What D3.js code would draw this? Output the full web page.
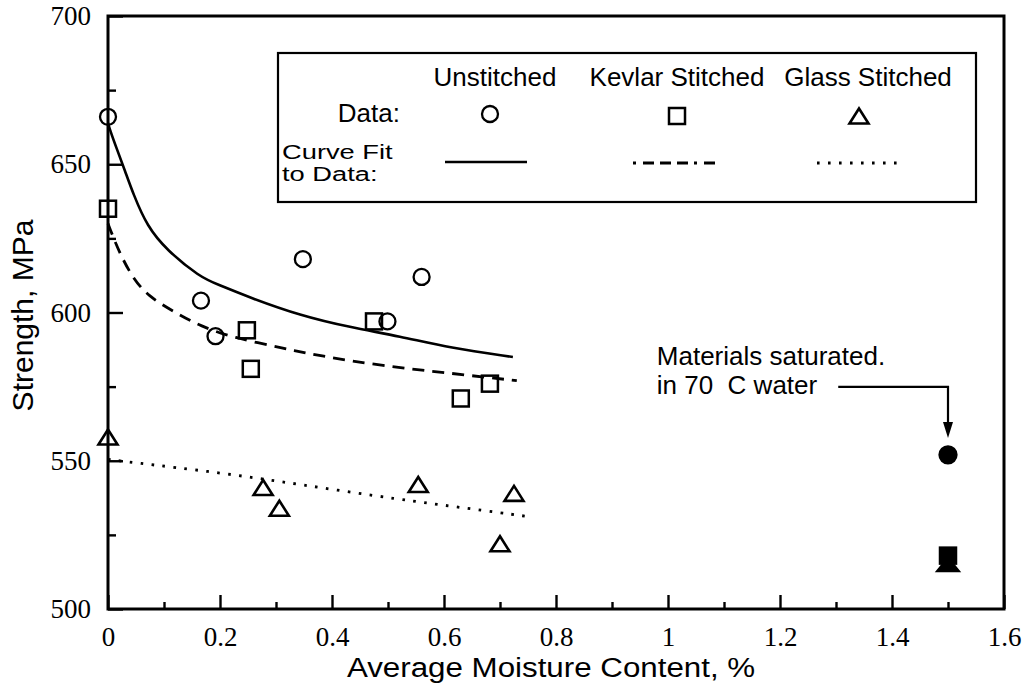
<!DOCTYPE html>
<html>
<head>
<meta charset="utf-8">
<title>Strength vs. Average Moisture Content</title>
<script src="https://cdn.jsdelivr.net/npm/d3@7"></script>
<style>
  html, body { margin: 0; padding: 0; background: #fff; }
  svg { display: block; }
  svg text.tick-label { font-family: "Liberation Serif", "DejaVu Serif", "Noto Serif", serif !important; }
</style>
</head>
<body>
<svg id="chart" width="1030" height="698"></svg>
<script>
// ---- Data ----------------------------------------------------------------
// Measured specimens (moisture content %, strength MPa)
const unstitchedX = [0, 0.166, 0.192, 0.348, 0.499, 0.560];
const unstitchedY = [666, 604, 592, 618, 597, 612];
const kevlarX = [0, 0.248, 0.255, 0.475, 0.630, 0.682];
const kevlarY = [635, 594, 581, 597, 571, 576];
const glassX = [0, 0.277, 0.306, 0.554, 0.700, 0.725];
const glassY = [558, 541, 534, 542, 522, 539];

// Specimens saturated in 70 C water
const saturatedX = 1.5;
const saturatedY = { unstitched: 552, kevlar: 518, glass: 515 };

// Curve fits, sampled along each fitted curve
const fitUnstitchedX = [0, 0.0036, 0.016, 0.030, 0.045, 0.070, 0.105, 0.164, 0.195, 0.254, 0.343, 0.432, 0.521, 0.611, 0.723];
const fitUnstitchedY = [664, 661.5, 655, 648, 640, 629, 621, 612, 609.5, 605, 599, 595, 592, 588, 585];
const fitKevlarX = [0, 0.007, 0.021, 0.043, 0.071, 0.120, 0.164, 0.223, 0.313, 0.373, 0.491, 0.611, 0.730];
const fitKevlarY = [630, 626.5, 620, 612, 605.5, 600, 595.5, 591.5, 588, 585.5, 582, 579.5, 577];
const fitGlassX = [0, 0.039, 0.200, 0.343, 0.518, 0.641, 0.757];
const fitGlassY = [550.5, 549.5, 546, 542, 537, 534, 531];

// Axes
const xMajorTicks = [0, 0.2, 0.4, 0.6, 0.8, 1.0, 1.2, 1.4, 1.6];
const xTickLabels = ["0", "0.2", "0.4", "0.6", "0.8", "1", "1.2", "1.4", "1.6"];
const xMinorTicks = [0.1, 0.3, 0.5, 0.7, 0.9, 1.1, 1.3, 1.5];
const yMajorTicks = [500, 550, 600, 650, 700];
const yTickLabels = ["500", "550", "600", "650", "700"];
const yMinorTicks = [525, 575, 625, 675];

// Legend
const seriesNames = ["Unstitched", "Kevlar Stitched", "Glass Stitched"];

// ---- Layout ---------------------------------------------------------------
const SANS = '"Liberation Sans", Arial, Helvetica, sans-serif';
const SERIF = "Liberation Serif";

const svg = d3.select("#chart");
const plot = { left: 108, top: 16, right: 1004, bottom: 609 };

const x = d3.scaleLinear().domain([0, 1.6]).range([plot.left, plot.right]);
const y = d3.scaleLinear().domain([500, 700]).range([plot.bottom, plot.top]);

const zip = (xs, ys) => xs.map((v, i) => [v, ys[i]]);

function sansText(g, str, size) {
  return g.append("text")
    .style("font-family", SANS).style("font-size", size + "px")
    .attr("fill", "#000").text(str);
}

// ---- Marker shapes ----------------------------------------------------------
function drawCircle(g, cx, cy, filled) {
  g.append("circle")
    .attr("cx", cx).attr("cy", cy).attr("r", filled ? 8.5 : 8)
    .attr("fill", filled ? "#000" : "none")
    .attr("stroke", "#000").attr("stroke-width", 2.3);
}
function drawSquare(g, cx, cy, filled) {
  const s = 16;
  g.append("rect")
    .attr("x", cx - s / 2).attr("y", cy - s / 2)
    .attr("width", s).attr("height", s)
    .attr("fill", filled ? "#000" : "none")
    .attr("stroke", "#000").attr("stroke-width", 2.5);
}
function drawTriangle(g, cx, cy, filled) {
  const w = filled ? 21 : 19, h = filled ? 13 : 15;
  g.append("path")
    .attr("d", `M${cx},${cy - h / 2} L${cx + w / 2},${cy + h / 2} L${cx - w / 2},${cy + h / 2} Z`)
    .attr("fill", filled ? "#000" : "none")
    .attr("stroke", "#000").attr("stroke-width", 2.6)
    .attr("stroke-linejoin", "miter");
}

// ---- Curve fits ----------------------------------------------------------
const line = d3.line().x(d => x(d[0])).y(d => y(d[1])).curve(d3.curveBasis);
const fits = svg.append("g").attr("fill", "none").attr("stroke", "#000");

fits.append("path").datum(zip(fitUnstitchedX, fitUnstitchedY))
  .attr("d", line).attr("stroke-width", 2.6);
fits.append("path").datum(zip(fitKevlarX, fitKevlarY))
  .attr("d", line).attr("stroke-width", 2.8).attr("stroke-dasharray", "12,8");
fits.append("path").datum(zip(fitGlassX, fitGlassY))
  .attr("d", line).attr("stroke-width", 2.8).attr("stroke-dasharray", "2.6,8.4");

// ---- Data markers ----------------------------------------------------------
const marks = svg.append("g");
zip(unstitchedX, unstitchedY).forEach(d => drawCircle(marks, x(d[0]), y(d[1]), false));
zip(kevlarX, kevlarY).forEach(d => drawSquare(marks, x(d[0]), y(d[1]), false));
zip(glassX, glassY).forEach(d => drawTriangle(marks, x(d[0]), y(d[1]), false));

drawCircle(marks, x(saturatedX), y(saturatedY.unstitched), true);
drawSquare(marks, x(saturatedX), y(saturatedY.kevlar), true);
drawTriangle(marks, x(saturatedX), y(saturatedY.glass), true);

// ---- Axes (ticks point inward) -----------------------------------------------
function styleAxis(g) {
  g.select(".domain").remove();
  g.attr("font-family", SERIF).attr("font-size", 27);
  g.selectAll(".tick line").attr("stroke", "#000").attr("stroke-width", 2.4);
  g.selectAll(".tick text")
    .attr("class", "tick-label")
    .attr("fill", "#000")
    .attr("font-family", SERIF)
    .style("font-size", "27px");
}
const xAxis = d3.axisBottom(x).tickValues(xMajorTicks)
  .tickFormat((d, i) => xTickLabels[i]).tickSizeInner(-14).tickSizeOuter(0).tickPadding(18);
svg.append("g").attr("transform", `translate(0,${plot.bottom})`).call(xAxis).call(styleAxis);

svg.append("g").attr("transform", `translate(0,${plot.bottom})`)
  .call(d3.axisBottom(x).tickValues(xMinorTicks).tickFormat("").tickSizeInner(-7).tickSizeOuter(0))
  .call(styleAxis);

const yAxis = d3.axisLeft(y).tickValues(yMajorTicks)
  .tickFormat((d, i) => yTickLabels[i]).tickSizeInner(-15).tickSizeOuter(0).tickPadding(17);
svg.append("g").attr("transform", `translate(${plot.left},0)`).call(yAxis).call(styleAxis);

svg.append("g").attr("transform", `translate(${plot.left},0)`)
  .call(d3.axisLeft(y).tickValues(yMinorTicks).tickFormat("").tickSizeInner(-8).tickSizeOuter(0))
  .call(styleAxis);

// Plot frame
svg.append("rect")
  .attr("x", plot.left).attr("y", plot.top)
  .attr("width", plot.right - plot.left).attr("height", plot.bottom - plot.top)
  .attr("fill", "none").attr("stroke", "#000").attr("stroke-width", 3);

// ---- Axis titles ------------------------------------------------------------
sansText(svg, "Average Moisture Content, %", 27)
  .attr("transform", `translate(${(plot.left + plot.right) / 2 - 5},677) scale(1.16,1)`)
  .attr("text-anchor", "middle");

sansText(svg, "Strength, MPa", 30)
  .attr("transform", `translate(33,${(plot.top + plot.bottom) / 2 + 3}) rotate(-90)`)
  .attr("text-anchor", "middle");

// ---- Legend ----------------------------------------------------------------
const legend = svg.append("g");
legend.append("rect")
  .attr("x", 278).attr("y", 53).attr("width", 698).attr("height", 149)
  .attr("fill", "#fff").attr("stroke", "#000").attr("stroke-width", 2.2);

const colCenters = [495, 677, 868];
const symCenters = [490, 677, 859];
seriesNames.forEach((name, i) => {
  sansText(legend, name, 26)
    .attr("x", colCenters[i]).attr("y", 86).attr("text-anchor", "middle");
});
sansText(legend, "Data:", 26).attr("x", 400).attr("y", 122).attr("text-anchor", "end");
sansText(legend, "Curve Fit", 21).attr("transform", "translate(282,159) scale(1.3,1)");
sansText(legend, "to Data:", 21).attr("transform", "translate(282,181) scale(1.3,1)");

drawCircle(legend, symCenters[0], 114, false);
drawSquare(legend, symCenters[1], 116, false);
drawTriangle(legend, symCenters[2], 116, false);

const legendLines = legend.append("g").attr("stroke", "#000").attr("fill", "none");
legendLines.append("line").attr("x1", 445).attr("x2", 527).attr("y1", 162).attr("y2", 162)
  .attr("stroke-width", 2.6);
legendLines.append("line").attr("x1", 633).attr("x2", 717).attr("y1", 163).attr("y2", 163)
  .attr("stroke-width", 2.8).attr("stroke-dasharray", "3,7,11,6,11,6,11,6");
legendLines.append("line").attr("x1", 817).attr("x2", 899).attr("y1", 163).attr("y2", 163)
  .attr("stroke-width", 2.8).attr("stroke-dasharray", "2.6,8.4");

// ---- Annotation for saturated specimens ------------------------------------
const note = svg.append("g");
sansText(note, "Materials saturated.", 26).attr("x", x(0.98)).attr("y", y(582.3));
sansText(note, "in 70  C water", 26).attr("x", x(0.98)).attr("y", y(572.5))
  .style("white-space", "pre");

const ax = x(saturatedX), ay = y(574.9), tipY = y(557.7);
note.append("path")
  .attr("d", `M${x(1.304)},${ay} H${ax} V${tipY - 12}`)
  .attr("fill", "none").attr("stroke", "#000").attr("stroke-width", 2.2);
note.append("path")
  .attr("d", `M${ax - 5},${tipY - 16} L${ax + 5},${tipY - 16} L${ax},${tipY} Z`)
  .attr("fill", "#000");
</script>
</body>
</html>
